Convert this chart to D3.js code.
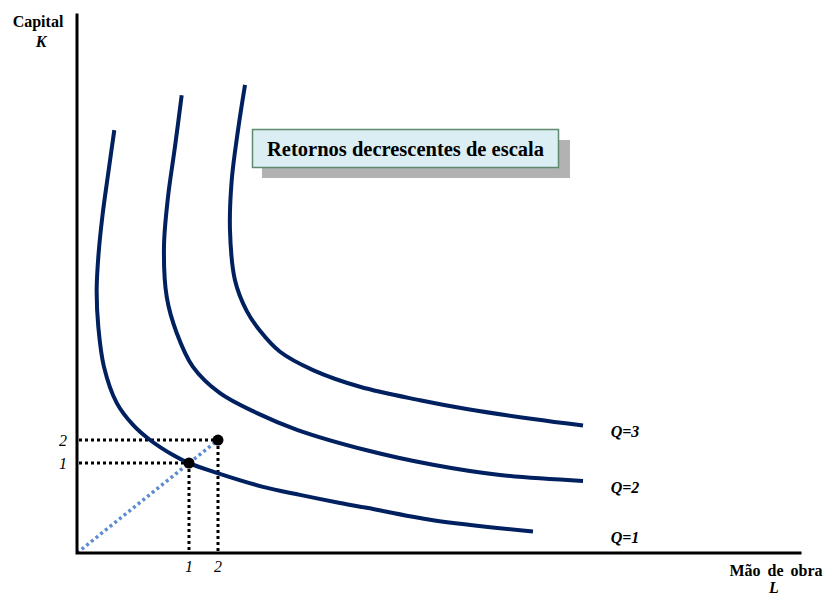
<!DOCTYPE html>
<html>
<head>
<meta charset="utf-8">
<script src="https://cdn.jsdelivr.net/npm/d3@7"></script>
<style>
  html, body { margin: 0; padding: 0; background: #fff; }
  svg { display: block; }
  text { font-family: "Liberation Serif", "DejaVu Serif", serif; fill: #000; }
</style>
</head>
<body>
<div id="chart"></div>
<script>
// ---- Data (arbitrary units: labour L on x, capital K on y) ----
const isoquantQ1 = [[5.16,78.6],[4.29,70.3],[3.53,62.8],[2.97,55.4],[2.72,48.9],[2.95,42.0],[3.73,34.6],[5.49,27.9],[7.75,23.8],[10.10,21.0],[13.28,18.2],[15.49,16.7],[19.32,14.9],[25.73,12.3],[30.84,10.8],[36.38,9.3],[40.07,8.4],[49.24,6.1],[63.07,4.0]];
const isoquantQ2 = [[14.48,85.1],[13.55,75.5],[12.59,66.2],[12.03,56.9],[12.41,47.6],[13.79,40.9],[16.04,34.6],[19.78,29.7],[24.90,26.0],[30.43,22.9],[40.07,19.1],[49.24,16.4],[58.51,14.5],[69.99,13.4]];
const isoquantQ3 = [[23.24,87.0],[22.27,78.6],[21.40,69.3],[21.16,60.0],[21.85,50.7],[23.47,45.0],[25.31,41.3],[28.08,37.4],[32.64,34.0],[39.14,30.9],[47.44,28.4],[53.90,26.77],[63.07,24.91],[69.99,23.7]];
const curveLabels = ["Q=1", "Q=2", "Q=3"];
const inputL = [15.49, 19.50];   // labour at the two marked bundles
const inputK = [16.73, 21.00];   // capital at the two marked bundles
const tickLabels = ["1", "2"];
const yTitle = ["Capital", "K"];
const xTitle = ["Mão de obra", "L"];
const boxTitle = "Retornos decrescentes de escala";

// ---- Layout ----
const W = 824, H = 596;
const x = d3.scaleLinear().domain([0, 100]).range([77, 800]);
const y = d3.scaleLinear().domain([0, 100]).range([553, 15]);

const svg = d3.select("#chart").append("svg")
  .attr("width", W).attr("height", H)
  .attr("viewBox", `0 0 ${W} ${H}`);

svg.append("rect").attr("width", W).attr("height", H).attr("fill", "#fff");

// ---- Dotted guide lines ----
const guides = svg.append("g");
inputL.forEach((l, i) => {
  const k = inputK[i];
  guides.append("line")
    .attr("x1", x(0) + 2).attr("y1", y(k)).attr("x2", x(l)).attr("y2", y(k))
    .attr("stroke", "#000").attr("stroke-width", 3).attr("stroke-dasharray", "3,3");
  guides.append("line")
    .attr("x1", x(l)).attr("y1", y(k)).attr("x2", x(l)).attr("y2", y(0) - 2)
    .attr("stroke", "#000").attr("stroke-width", 3).attr("stroke-dasharray", "3,3");
});

// ray from origin
svg.append("line")
  .attr("x1", x(0)).attr("y1", y(0))
  .attr("x2", x(inputL[1])).attr("y2", y(inputK[1]))
  .attr("stroke", "#5B8BD0").attr("stroke-width", 3.5).attr("stroke-dasharray", "3,3");

// ---- Isoquants ----
const line = d3.line().x(d => x(d[0])).y(d => y(d[1])).curve(d3.curveCatmullRom.alpha(0.5));
const curves = [isoquantQ1, isoquantQ2, isoquantQ3];
svg.append("g").selectAll("path").data(curves).join("path")
  .attr("d", line)
  .attr("fill", "none").attr("stroke", "#002060").attr("stroke-width", 4)
  .attr("stroke-linecap", "butt");

// curve labels
svg.append("g").selectAll("text").data(curves).join("text")
  .attr("x", 625)
  .attr("y", d => y(d[d.length - 1][1]) + 12)
  .attr("text-anchor", "middle")
  .attr("font-size", 16).attr("font-weight", "bold").attr("font-style", "italic")
  .text((d, i) => curveLabels[i]);

// points
svg.append("g").selectAll("circle").data(inputL).join("circle")
  .attr("cx", d => x(d)).attr("cy", (d, i) => y(inputK[i]))
  .attr("r", 5.5).attr("fill", "#000");

// ---- Axes ----
svg.append("path")
  .attr("d", `M${x(0)},${y(100)}L${x(0)},${y(0)}L${x(100)},${y(0)}`)
  .attr("fill", "none").attr("stroke", "#000").attr("stroke-width", 3)
  .attr("stroke-linecap", "square");

// tick labels
svg.append("g").selectAll("text").data(inputK).join("text")
  .attr("x", 63).attr("y", d => y(d) + 6)
  .attr("text-anchor", "middle")
  .attr("font-size", 16).attr("font-style", "italic")
  .text((d, i) => tickLabels[i]);
svg.append("g").selectAll("text").data(inputL).join("text")
  .attr("x", d => x(d)).attr("y", 572)
  .attr("text-anchor", "middle")
  .attr("font-size", 16).attr("font-style", "italic")
  .text((d, i) => tickLabels[i]);

// axis titles
svg.append("text").attr("x", 38).attr("y", 27).attr("text-anchor", "middle")
  .attr("font-size", 16).attr("font-weight", "bold").text(yTitle[0]);
svg.append("text").attr("x", 41).attr("y", 47).attr("text-anchor", "middle")
  .attr("font-size", 16).attr("font-weight", "bold").attr("font-style", "italic").text(yTitle[1]);
svg.append("text").attr("x", 776).attr("y", 576).attr("text-anchor", "middle")
  .attr("font-size", 16).attr("font-weight", "bold").attr("word-spacing", 3).text(xTitle[0]);
svg.append("text").attr("x", 774).attr("y", 593).attr("text-anchor", "middle")
  .attr("font-size", 16).attr("font-weight", "bold").attr("font-style", "italic").text(xTitle[1]);

// ---- Title box ----
const box = svg.append("g");
box.append("rect").attr("x", 262).attr("y", 140).attr("width", 308).attr("height", 38)
  .attr("fill", "#b2b2b2");
box.append("rect").attr("x", 252.5).attr("y", 129.5).attr("width", 306).attr("height", 38)
  .attr("fill", "#dbeef4").attr("stroke", "#5f8a6e").attr("stroke-width", 1.5);
box.append("text").attr("x", 405.5).attr("y", 155.5).attr("text-anchor", "middle")
  .attr("font-size", 20.5).attr("font-weight", "bold").text(boxTitle);
</script>
</body>
</html>
